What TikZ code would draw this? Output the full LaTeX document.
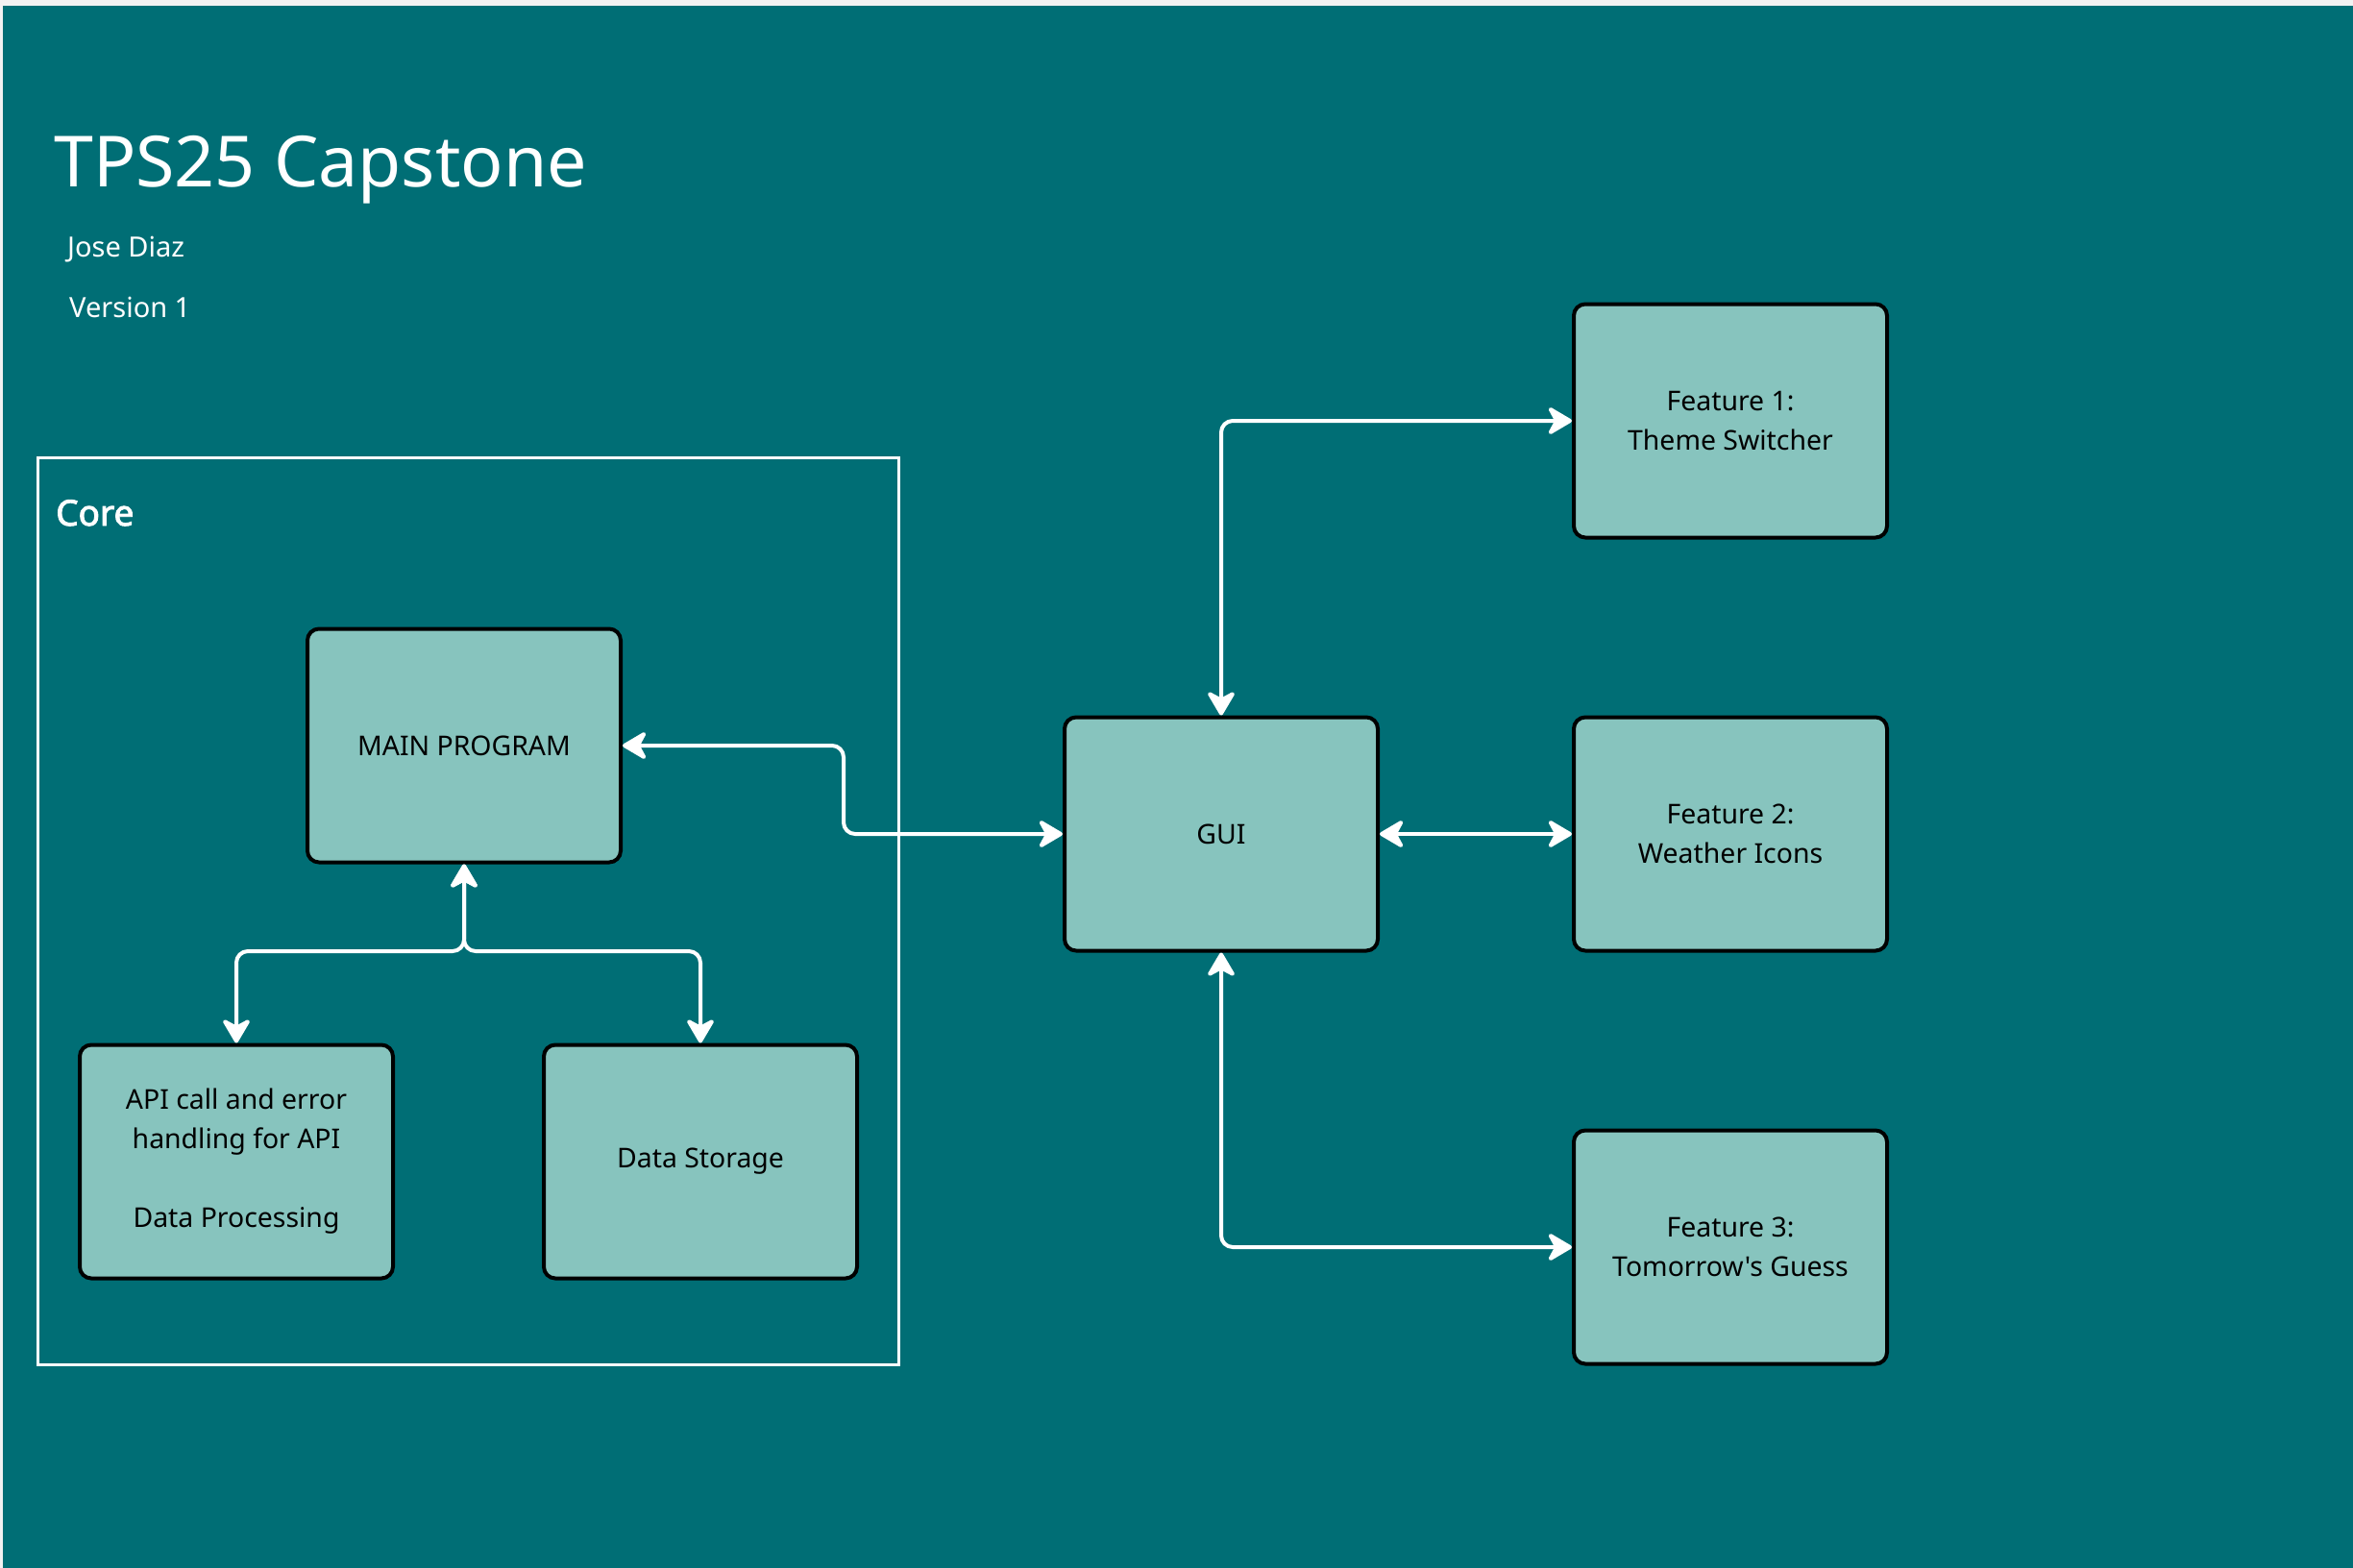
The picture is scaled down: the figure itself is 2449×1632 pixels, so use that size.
\documentclass[tikz,border=0pt]{standalone}
\usepackage{fontspec}
\setmainfont{Noto Sans}[Ligatures=TeXOff, AutoFakeBold=2.5]
\usetikzlibrary{arrows.meta}
\definecolor{bgteal}{HTML}{006E75}
\definecolor{boxfill}{HTML}{87C4BE}
\definecolor{edgegray}{HTML}{F2F2F2}
\begin{document}
\begin{tikzpicture}[x=1pt,y=-1pt,
  blk/.style={draw=black, line width=4pt, fill=boxfill, rounded corners=12pt,
    minimum width=326pt, minimum height=243pt, align=center,
    font=\fontsize{28.4}{41}\selectfont, text=black},
  tip/.tip={Stealth[length=29pt,width=34pt,inset=9pt,round]},
  link/.style={draw=white, line width=4pt, rounded corners=12pt, tip-tip},
  ttl/.style={text=white, inner sep=0pt, anchor=base west}]
\useasboundingbox (0,0) rectangle (2449,1632);
\fill[edgegray] (0,0) rectangle (2449,1632);
\fill[bgteal] (3,6) rectangle (2449,1632);

\node[ttl, font=\fontsize{73.5}{88}\selectfont] (title) at (56,195) {TPS25 Capstone};
\node[ttl, font=\fontsize{29}{34}\selectfont] (author) at (70,267) {Jose Diaz};
\node[ttl, font=\fontsize{29}{34}\selectfont] (version) at (72,330) {Version 1};

\node[draw=white, line width=3pt, minimum width=896pt, minimum height=944pt, inner sep=0pt] (core) at (487,948) {};
\node[ttl, font=\fontsize{37}{44}\selectfont\bfseries] (corelbl) at (58,547) {Core};

\node[blk] (main) at (483,776) {MAIN PROGRAM};
\node[blk] (api) at (246,1209) {API call and error\\handling for API\\[41pt]Data Processing};
\node[blk] (ds) at (729,1209) {Data Storage};
\node[blk] (gui) at (1271,868) {GUI};
\node[blk] (f1) at (1801,438) {Feature 1:\\Theme Switcher};
\node[blk] (f2) at (1801,868) {Feature 2:\\Weather Icons};
\node[blk] (f3) at (1801,1298) {Feature 3:\\Tomorrow's Guess};

\coordinate (j1) at (878,868);
\coordinate (split) at (483,990);

\draw[link] (main.east) -| (j1) -- (gui.west);
\draw[link] (main.south) -- (split) -| (api.north);
\draw[link] (main.south) -- (split) -| (ds.north);
\draw[link] (gui.north) |- (f1.west);
\draw[link] (gui.east) -- (f2.west);
\draw[link] (gui.south) |- (f3.west);
\end{tikzpicture}
\end{document}
